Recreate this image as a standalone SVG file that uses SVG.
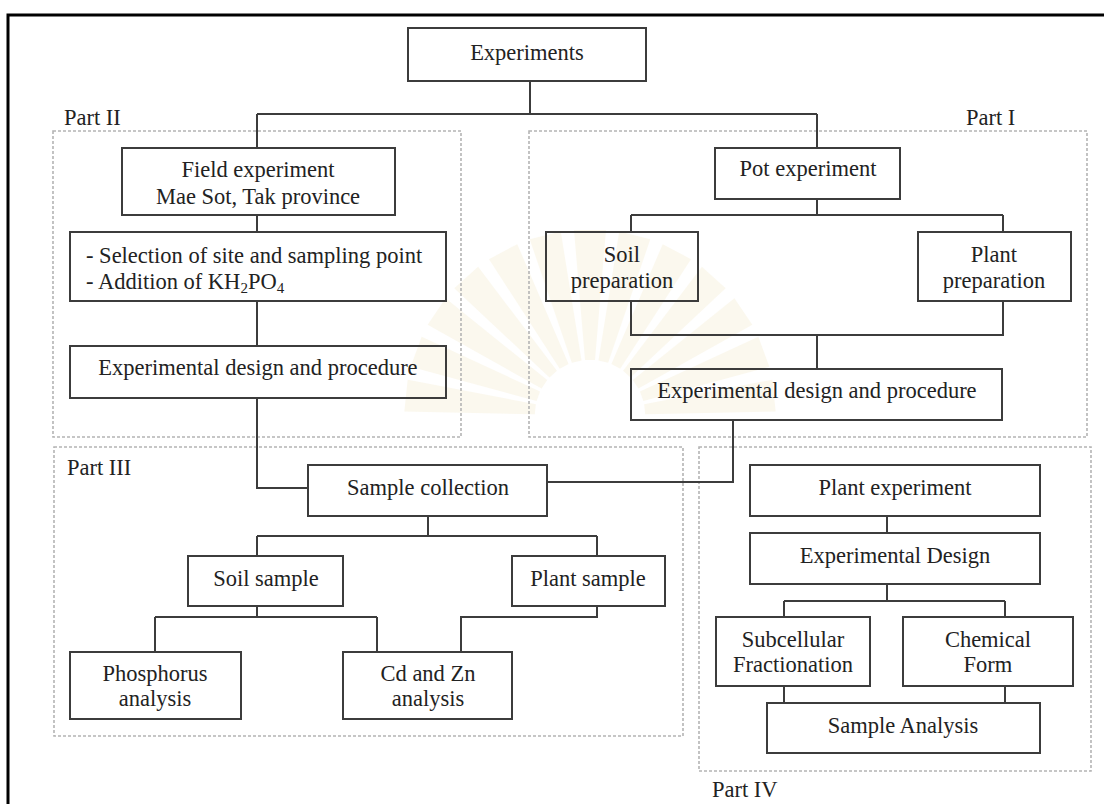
<svg xmlns="http://www.w3.org/2000/svg" xmlns:xlink="http://www.w3.org/1999/xlink" width="1104" height="804" viewBox="0 0 1104 804">
  <style>
    .frame { fill: none; stroke: #000; stroke-width: 3; }
    .part { fill: none; stroke: #b4b4b4; stroke-width: 1.6; stroke-dasharray: 3 2; }
    .box { fill: none; stroke: #3c3c3c; stroke-width: 2; }
    .wire { fill: none; stroke: #3c3c3c; stroke-width: 2; }
    text { font-family: "Liberation Serif", "Times New Roman", serif; font-size: 22.5px; fill: #222; }
    .c { text-anchor: middle; }
    .ray { fill: #f8f1de; opacity: 0.5; }
  </style>
  <defs>
    <polygon id="ray" points="-5,-55 5,-55 16,-185 -16,-185"/>
  </defs>

  <rect width="1104" height="804" fill="#ffffff"/>

  <!-- faint sunburst watermark behind the chart -->
  <g id="watermark">
    <use xlink:href="#ray" class="ray" transform="translate(590,415) rotate(-84)"/>
    <use xlink:href="#ray" class="ray" transform="translate(590,415) rotate(-70)"/>
    <use xlink:href="#ray" class="ray" transform="translate(590,415) rotate(-56)"/>
    <use xlink:href="#ray" class="ray" transform="translate(590,415) rotate(-42)"/>
    <use xlink:href="#ray" class="ray" transform="translate(590,415) rotate(-28)"/>
    <use xlink:href="#ray" class="ray" transform="translate(590,415) rotate(-14)"/>
    <use xlink:href="#ray" class="ray" transform="translate(590,415) rotate(0)"/>
    <use xlink:href="#ray" class="ray" transform="translate(590,415) rotate(14)"/>
    <use xlink:href="#ray" class="ray" transform="translate(590,415) rotate(28)"/>
    <use xlink:href="#ray" class="ray" transform="translate(590,415) rotate(42)"/>
    <use xlink:href="#ray" class="ray" transform="translate(590,415) rotate(56)"/>
    <use xlink:href="#ray" class="ray" transform="translate(590,415) rotate(70)"/>
    <use xlink:href="#ray" class="ray" transform="translate(590,415) rotate(84)"/>
  </g>

  <!-- outer frame, open to the right and bottom -->
  <path class="frame" d="M8,804 V15 H1104"/>

  <!-- dashed part groupings -->
  <g id="parts">
    <rect class="part" x="53" y="131" width="408" height="306"/>
    <rect class="part" x="529" y="131" width="558" height="306"/>
    <rect class="part" x="54" y="447" width="629" height="289"/>
    <rect class="part" x="699" y="447" width="392" height="324"/>
    <text x="64" y="125">Part II</text>
    <text x="966" y="125">Part I</text>
    <text x="67" y="475">Part III</text>
    <text x="712" y="797">Part IV</text>
  </g>

  <!-- connectors -->
  <g id="connectors">
    <path class="wire" d="M530,81 V114 M257,114 H817 M257,114 V148 M817,114 V148"/>
    <path class="wire" d="M257,215 V232 M257,301 V346 M257,398 V488 H308"/>
    <path class="wire" d="M817,199 V215 M631,215 H1003 M631,215 V232 M1003,215 V232"/>
    <path class="wire" d="M631,301 V335 H1003 V301 M817,335 V369"/>
    <path class="wire" d="M733,420 V482 H547"/>
    <path class="wire" d="M428,516 V536 M257,536 H597 M257,536 V556 M597,536 V556"/>
    <path class="wire" d="M257,606 V617 M155,617 H377 M155,617 V652 M377,617 V652"/>
    <path class="wire" d="M597,606 V617 H461 V652"/>
    <path class="wire" d="M887,516 V533 M887,584 V601 M784,601 H1005 M784,601 V617 M1005,601 V617"/>
    <path class="wire" d="M784,686 V703 M1005,686 V703"/>
  </g>

  <g id="experiments">
    <rect class="box" x="408" y="28" width="238" height="53"/>
    <text class="c" x="527" y="60">Experiments</text>
  </g>

  <!-- Part II: field experiment -->
  <g id="field-experiment">
    <rect class="box" x="122" y="148" width="273" height="67"/>
    <text class="c" x="258" y="177">Field experiment</text>
    <text class="c" x="258" y="204">Mae Sot, Tak province</text>
  </g>
  <g id="site-selection">
    <rect class="box" x="70" y="232" width="376" height="69"/>
    <text x="86" y="263">- Selection of site and sampling point</text>
    <text x="86" y="289">- Addition of KH<tspan font-size="15" dy="4">2</tspan><tspan dy="-4">PO</tspan><tspan font-size="15" dy="4">4</tspan></text>
  </g>
  <g id="field-design">
    <rect class="box" x="70" y="346" width="376" height="52"/>
    <text class="c" x="258" y="375">Experimental design and procedure</text>
  </g>

  <!-- Part I: pot experiment -->
  <g id="pot-experiment">
    <rect class="box" x="715" y="148" width="185" height="51"/>
    <text class="c" x="808" y="176">Pot experiment</text>
  </g>
  <g id="soil-preparation">
    <rect class="box" x="546" y="232" width="152" height="69"/>
    <text class="c" x="622" y="262">Soil</text>
    <text class="c" x="622" y="288">preparation</text>
  </g>
  <g id="plant-preparation">
    <rect class="box" x="918" y="232" width="153" height="69"/>
    <text class="c" x="994" y="262">Plant</text>
    <text class="c" x="994" y="288">preparation</text>
  </g>
  <g id="pot-design">
    <rect class="box" x="631" y="369" width="371" height="51"/>
    <text class="c" x="817" y="398">Experimental design and procedure</text>
  </g>

  <!-- Part III: sampling and analysis -->
  <g id="sample-collection">
    <rect class="box" x="308" y="465" width="239" height="51"/>
    <text class="c" x="428" y="495">Sample collection</text>
  </g>
  <g id="soil-sample">
    <rect class="box" x="188" y="556" width="155" height="50"/>
    <text class="c" x="266" y="586">Soil sample</text>
  </g>
  <g id="plant-sample">
    <rect class="box" x="512" y="556" width="153" height="50"/>
    <text class="c" x="588" y="586">Plant sample</text>
  </g>
  <g id="phosphorus-analysis">
    <rect class="box" x="70" y="652" width="171" height="67"/>
    <text class="c" x="155" y="681">Phosphorus</text>
    <text class="c" x="155" y="706">analysis</text>
  </g>
  <g id="cd-zn-analysis">
    <rect class="box" x="343" y="652" width="169" height="67"/>
    <text class="c" x="428" y="681">Cd and Zn</text>
    <text class="c" x="428" y="706">analysis</text>
  </g>

  <!-- Part IV: plant experiment -->
  <g id="plant-experiment">
    <rect class="box" x="750" y="465" width="290" height="51"/>
    <text class="c" x="895" y="495">Plant experiment</text>
  </g>
  <g id="experimental-design">
    <rect class="box" x="750" y="533" width="290" height="51"/>
    <text class="c" x="895" y="563">Experimental Design</text>
  </g>
  <g id="subcellular-fractionation">
    <rect class="box" x="716" y="617" width="154" height="69"/>
    <text class="c" x="793" y="647">Subcellular</text>
    <text class="c" x="793" y="672">Fractionation</text>
  </g>
  <g id="chemical-form">
    <rect class="box" x="903" y="617" width="170" height="69"/>
    <text class="c" x="988" y="647">Chemical</text>
    <text class="c" x="988" y="672">Form</text>
  </g>
  <g id="sample-analysis">
    <rect class="box" x="767" y="703" width="273" height="50"/>
    <text class="c" x="903" y="733">Sample Analysis</text>
  </g>
</svg>
